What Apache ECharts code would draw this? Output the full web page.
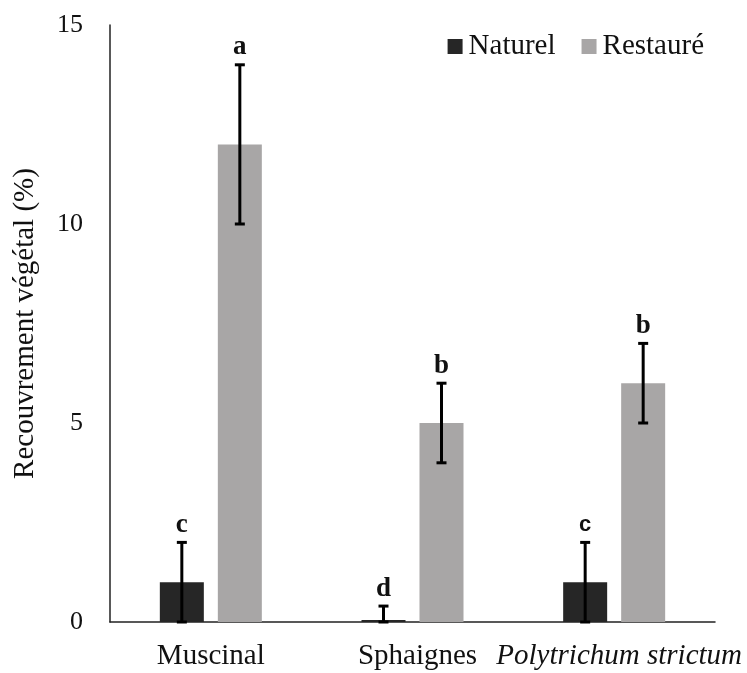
<!DOCTYPE html>
<html>
<head>
<meta charset="utf-8">
<script src="https://cdn.jsdelivr.net/npm/echarts@6/dist/echarts.min.js"></script>
<style>
  html, body { margin: 0; padding: 0; background: #fff; }
  #chart { width: 747px; height: 673px; }
</style>
</head>
<body>
<div id="chart"></div>
<script>
// Vegetation cover by moss group, natural vs restored sites
const categories = ['Muscinal', 'Sphaignes', 'Polytrichum strictum'];
const naturelValues = [1, 0.05, 1];
const naturelErrors = [1, 0.35, 1];
const naturelLetters = ['c', 'd', 'c'];
const restaureValues = [12, 5, 6];
const restaureErrors = [2, 1, 1];
const restaureLetters = ['a', 'b', 'b'];
const yTicks = [0, 5, 10, 15];

const SERIF = '"Liberation Serif", "Times New Roman", serif';
const SANS = '"Liberation Sans", Arial, sans-serif';
const BAR_W = 44;
const BAR_GAP = 14;
const OFFSET = (BAR_W + BAR_GAP) / 2;

function errorData(values, errors, letters) {
  return values.map((v, i) => [i, Math.max(0, v - errors[i]), v + errors[i], letters[i]]);
}

// Error bar with caps plus the significance letter above it
function errorRenderer(sign, sansIndex) {
  return function (params, api) {
    const idx = api.value(0);
    const lo = api.coord([idx, api.value(1)]);
    const hi = api.coord([idx, api.value(2)]);
    const x = lo[0] + sign * OFFSET;
    const cap = 5;
    const style = { stroke: '#000', lineWidth: 3 };
    const letter = api.value(3);
    const sans = idx === sansIndex;
    return {
      type: 'group',
      children: [
        { type: 'line', shape: { x1: x, y1: lo[1], x2: x, y2: hi[1] }, style: style },
        { type: 'line', shape: { x1: x - cap, y1: hi[1], x2: x + cap, y2: hi[1] }, style: style },
        { type: 'line', shape: { x1: x - cap, y1: lo[1], x2: x + cap, y2: lo[1] }, style: style },
        {
          type: 'text',
          x: x,
          y: hi[1] - (sans ? 6 : 4),
          style: {
            text: letter,
            fill: '#111',
            font: sans ? 'bold 22px ' + SANS : 'bold 27px ' + SERIF,
            textAlign: 'center',
            textVerticalAlign: 'bottom'
          }
        }
      ]
    };
  };
}

const chart = echarts.init(document.getElementById('chart'));
chart.setOption({
  animation: false,
  backgroundColor: '#fff',
  grid: { left: 110, right: 32, top: 25, bottom: 51, containLabel: false, outerBoundsMode: 'none' },
  legend: {
    top: 27,
    right: 38,
    itemWidth: 15,
    itemHeight: 15,
    itemGap: 26,
    icon: 'rect',
    textStyle: { fontFamily: SERIF, fontSize: 29, color: '#111', padding: [0, 0, 0, 1] },
    data: ['Naturel', 'Restauré']
  },
  xAxis: {
    type: 'category',
    data: categories,
    axisLine: { lineStyle: { color: '#222', width: 1.5 } },
    axisTick: { show: false },
    axisLabel: {
      interval: 0,
      hideOverlap: false,
      margin: 20,
      color: '#111',
      fontFamily: SERIF,
      fontSize: 29,
      formatter: function (v) {
        if (v === 'Polytrichum strictum') return '{it|' + v + '}';
        if (v === 'Sphaignes') return '{sp|' + v + '}';
        return v;
      },
      rich: {
        it: { fontStyle: 'italic', fontFamily: SERIF, fontSize: 29, color: '#111', padding: [0, 0, 0, 10] },
        sp: { fontFamily: SERIF, fontSize: 29, color: '#111', padding: [0, 0, 0, 10] }
      }
    }
  },
  yAxis: {
    type: 'value',
    min: yTicks[0],
    max: yTicks[yTicks.length - 1],
    interval: 5,
    name: 'Recouvrement végétal (%)',
    nameLocation: 'middle',
    nameGap: 70,
    nameTextStyle: { fontFamily: SERIF, fontSize: 29, color: '#111' },
    axisLine: { show: true, lineStyle: { color: '#222', width: 1.5 } },
    axisTick: { show: false },
    splitLine: { show: false },
    axisLabel: { margin: 27, color: '#111', fontFamily: SERIF, fontSize: 26 }
  },
  series: [
    {
      name: 'Naturel',
      type: 'bar',
      data: naturelValues,
      barWidth: BAR_W,
      barGap: (BAR_GAP / BAR_W * 100) + '%',
      itemStyle: { color: '#262626' }
    },
    {
      name: 'Restauré',
      type: 'bar',
      data: restaureValues,
      barWidth: BAR_W,
      itemStyle: { color: '#a8a6a6' }
    },
    {
      type: 'custom',
      renderItem: errorRenderer(-1, 2),
      data: errorData(naturelValues, naturelErrors, naturelLetters),
      z: 10
    },
    {
      type: 'custom',
      renderItem: errorRenderer(1, -1),
      data: errorData(restaureValues, restaureErrors, restaureLetters),
      z: 10
    }
  ]
});
</script>
</body>
</html>
